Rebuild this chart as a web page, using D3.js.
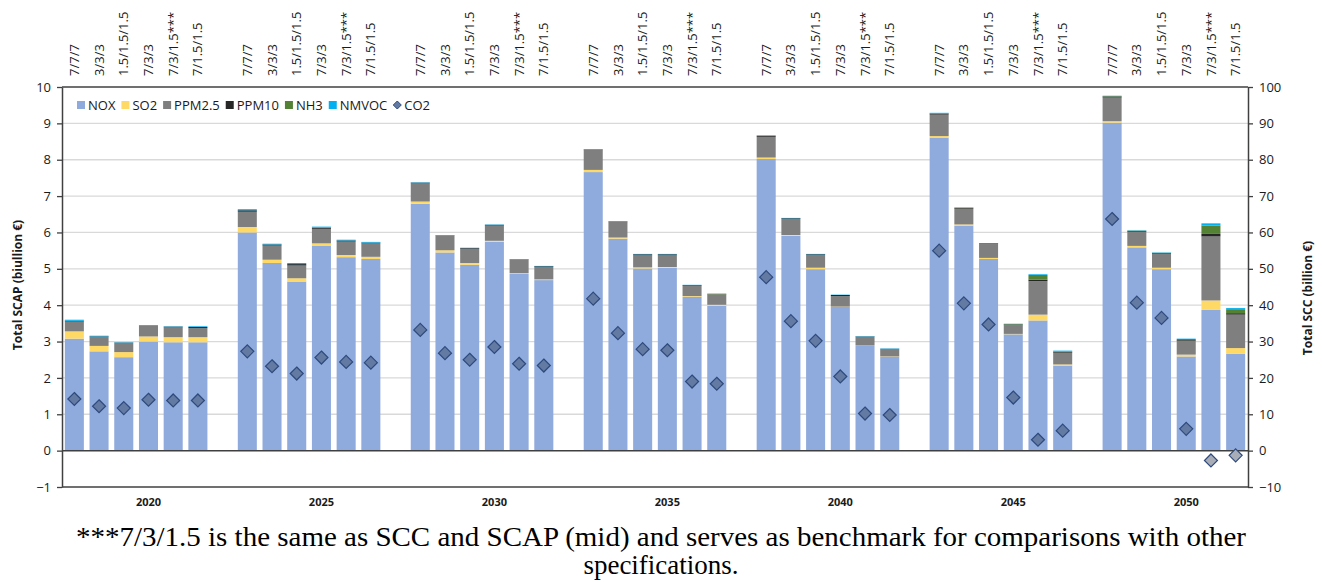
<!DOCTYPE html>
<html>
<head>
<meta charset="utf-8">
<script src="https://cdn.jsdelivr.net/npm/d3@7/dist/d3.min.js"></script>
<style>
  body { margin: 0; background: #fff; }
  svg text { font-family: "Open Sans", sans-serif; fill: #1a1a1a; }
  .caption { font-family: "Liberation Serif", serif; fill: #000; }
</style>
</head>
<body>
<svg id="chart" width="1322" height="582"></svg>
<script>
// external cost of emissions per scenario: SCAP stacks on the left axis, CO2 (SCC) on the right

var years = [2020, 2025, 2030, 2035, 2040, 2045, 2050];
var scenarios = ['7/7/7', '3/3/3', '1.5/1.5/1.5', '7/3/3', '7/3/1.5***', '7/1.5/1.5'];
var pollutants = ['NOX', 'SO2', 'PPM2.5', 'PPM10', 'NH3', 'NMVOC'];
var leftTicks = [-1, 0, 1, 2, 3, 4, 5, 6, 7, 8, 9, 10];
var rightTicks = [-10, 0, 10, 20, 30, 40, 50, 60, 70, 80, 90, 100];

// one row per year, one value per scenario (billion €)
var nox = [
  [3.08, 2.73, 2.57, 3.00, 2.98, 2.98],
  [6.00, 5.16, 4.65, 5.64, 5.32, 5.27],
  [6.79, 5.45, 5.11, 5.74, 4.86, 4.69],
  [7.66, 5.83, 5.01, 5.03, 4.23, 3.98],
  [8.02, 5.91, 4.99, 3.95, 2.88, 2.58],
  [8.61, 6.19, 5.27, 3.20, 3.58, 2.34],
  [9.02, 5.59, 4.99, 2.59, 3.87, 2.66]
];
var so2 = [
  [0.20, 0.15, 0.14, 0.14, 0.14, 0.14],
  [0.15, 0.09, 0.09, 0.06, 0.06, 0.06],
  [0.06, 0.06, 0.05, 0.03, 0.02, 0.02],
  [0.06, 0.03, 0.03, 0.02, 0.02, 0.03],
  [0.04, 0.02, 0.04, 0.01, 0.01, 0.01],
  [0.04, 0.03, 0.03, 0.01, 0.16, 0.03],
  [0.04, 0.04, 0.04, 0.05, 0.26, 0.16]
];
var ppm25 = [
  [0.27, 0.24, 0.25, 0.28, 0.27, 0.25],
  [0.42, 0.39, 0.35, 0.40, 0.37, 0.37],
  [0.50, 0.40, 0.39, 0.42, 0.37, 0.34],
  [0.54, 0.42, 0.33, 0.32, 0.28, 0.28],
  [0.57, 0.44, 0.35, 0.29, 0.24, 0.20],
  [0.59, 0.43, 0.38, 0.24, 0.92, 0.32],
  [0.65, 0.39, 0.38, 0.38, 1.76, 0.92]
];
var ppm10 = [
  [0.02, 0.02, 0.01, 0.02, 0.02, 0.03],
  [0.04, 0.03, 0.04, 0.03, 0.03, 0.02],
  [0.02, 0.01, 0.02, 0.02, 0.01, 0.02],
  [0.02, 0.02, 0.03, 0.03, 0.02, 0.01],
  [0.03, 0.02, 0.02, 0.03, 0.01, 0.01],
  [0.03, 0.02, 0.02, 0.02, 0.04, 0.02],
  [0.03, 0.02, 0.02, 0.02, 0.07, 0.04]
];
var nh3 = [
  [0.00, 0.00, 0.00, 0.00, 0.00, 0.00],
  [0.00, 0.00, 0.00, 0.00, 0.00, 0.00],
  [0.00, 0.00, 0.00, 0.00, 0.00, 0.00],
  [0.00, 0.00, 0.00, 0.00, 0.00, 0.01],
  [0.00, 0.00, 0.00, 0.00, 0.00, 0.00],
  [0.01, 0.01, 0.00, 0.01, 0.13, 0.02],
  [0.01, 0.01, 0.01, 0.03, 0.23, 0.11]
];
var nmvoc = [
  [0.03, 0.02, 0.01, 0.01, 0.01, 0.02],
  [0.03, 0.02, 0.03, 0.03, 0.02, 0.02],
  [0.01, 0.01, 0.01, 0.01, 0.01, 0.01],
  [0.01, 0.01, 0.01, 0.01, 0.01, 0.01],
  [0.01, 0.01, 0.01, 0.01, 0.01, 0.01],
  [0.01, 0.01, 0.01, 0.01, 0.02, 0.02],
  [0.01, 0.01, 0.01, 0.01, 0.06, 0.03]
];
// CO2 cost, right axis (billion €)
var co2 = [
  [14.2, 12.2, 11.7, 14.0, 13.8, 13.8],
  [27.3, 23.2, 21.2, 25.6, 24.4, 24.2],
  [33.2, 26.8, 25.0, 28.5, 23.9, 23.4],
  [41.8, 32.3, 27.9, 27.6, 19.0, 18.4],
  [47.7, 35.6, 30.2, 20.4, 10.2, 9.8],
  [55.0, 40.5, 34.7, 14.6, 3.0, 5.5],
  [63.7, 40.7, 36.5, 6.0, -2.7, -1.3]
];

var colors = ['#8faadc', '#ffd966', '#7f7f7f', '#262626', '#548235', '#00b0f0'];
var series = [nox, so2, ppm25, ppm10, nh3, nmvoc];

// build rows, with an empty slot between the years
var rows = [];
var slots = [];
years.forEach(function(year, i) {
  scenarios.forEach(function(scen, j) {
    var row = { key: year + '|' + scen, year: year, scen: scen, co2: co2[i][j] };
    pollutants.forEach(function(p, k) { row[p] = series[k][i][j]; });
    rows.push(row);
    slots.push(row.key);
  });
  if (i < years.length - 1) slots.push('gap' + i);
});

// plot box (window.top is taken, so prefix these)
var plotLeft = 62, plotRight = 1248, plotTop = 87, plotBottom = 487;
var svg = d3.select('#chart');

var x = d3.scaleBand()
  .domain(slots)
  .range([plotLeft, plotRight])
  .paddingInner(0.23)
  .paddingOuter(0.115);
var yL = d3.scaleLinear().domain([-1, 10]).range([plotBottom, plotTop]);
var yR = d3.scaleLinear().domain([-10, 100]).range([plotBottom, plotTop]);

// gridlines
svg.append('g')
  .selectAll('line')
  .data(leftTicks.filter(function(t) { return t > 0 && t < 10; }))
  .join('line')
  .attr('x1', plotLeft).attr('x2', plotRight)
  .attr('y1', function(d) { return yL(d); })
  .attr('y2', function(d) { return yL(d); })
  .attr('stroke', '#d9d9d9')
  .attr('stroke-width', 1.3);

// stacked bars
var stacked = d3.stack().keys(pollutants)(rows);
svg.append('g')
  .selectAll('g')
  .data(stacked)
  .join('g')
  .attr('fill', function(d, i) { return colors[i]; })
  .selectAll('rect')
  .data(function(d) { return d; })
  .join('rect')
  .attr('x', function(d) { return x(d.data.key); })
  .attr('width', x.bandwidth())
  .attr('y', function(d) { return yL(d[1]); })
  .attr('height', function(d) { return Math.max(0, yL(d[0]) - yL(d[1])); });

// frame lines: top, zero and bottom
svg.append('g')
  .selectAll('line')
  .data([10, 0, -1])
  .join('line')
  .attr('x1', plotLeft).attr('x2', plotRight)
  .attr('y1', function(d) { return yL(d); })
  .attr('y2', function(d) { return yL(d); })
  .attr('stroke', '#404040')
  .attr('stroke-width', 1.5);

// left axis
var axL = svg.append('g')
  .attr('transform', 'translate(' + plotLeft + ',0)')
  .call(d3.axisLeft(yL).tickValues(leftTicks).tickSize(5).tickSizeOuter(0).tickPadding(6));
// right axis
var axR = svg.append('g')
  .attr('transform', 'translate(' + plotRight + ',0)')
  .call(d3.axisRight(yR).tickValues(rightTicks).tickSize(5).tickSizeOuter(0).tickPadding(6));
[axL, axR].forEach(function(ax) {
  ax.select('.domain').attr('stroke', '#404040').attr('stroke-width', 1.5);
  ax.selectAll('.tick line').attr('stroke', '#404040').attr('stroke-width', 1.3);
  ax.selectAll('.tick text')
    .style('font-family', '"Open Sans", sans-serif')
    .style('font-size', '13px')
    .attr('fill', '#1a1a1a');
});

// scenario labels along the top
var axT = svg.append('g')
  .attr('transform', 'translate(0,' + plotTop + ')')
  .call(d3.axisTop(x)
    .tickValues(rows.map(function(r) { return r.key; }))
    .tickFormat(function(k) { return k.split('|')[1]; })
    .tickSize(0));
axT.select('.domain').remove();
axT.selectAll('.tick text')
  .attr('transform', 'rotate(-90)')
  .attr('x', 11)
  .attr('y', 0)
  .attr('dy', '0.35em')
  .attr('text-anchor', 'start')
  .style('font-family', '"Open Sans", sans-serif')
  .style('font-size', '13px')
  .attr('fill', '#1a1a1a');

// year labels under each group
svg.append('g')
  .selectAll('text')
  .data(years)
  .join('text')
  .attr('x', function(d) {
    return x(d + '|' + scenarios[0]) + x.bandwidth() / 2 + 3 * x.step();
  })
  .attr('y', 506)
  .attr('text-anchor', 'middle')
  .style('font-size', '11px')
  .style('font-weight', 'bold')
  .text(function(d) { return d; });

// co2 diamonds on the right scale
var diamond = 'M0,-6.5L6.5,0L0,6.5L-6.5,0Z';
svg.append('g')
  .selectAll('path')
  .data(rows)
  .join('path')
  .attr('d', diamond)
  .attr('transform', function(d) {
    return 'translate(' + (x(d.key) + x.bandwidth() / 2) + ',' + yR(d.co2) + ')';
  })
  .attr('fill', function(d) { return d.co2 < 0 ? '#a9adb5' : '#637aa3'; })
  .attr('stroke', '#2e4a7d')
  .attr('stroke-width', 1.2);

// axis titles
svg.append('text')
  .attr('transform', 'translate(22,285) rotate(-90)')
  .attr('text-anchor', 'middle')
  .style('font-size', '12px')
  .style('font-weight', 'bold')
  .text('Total SCAP (biullion €)');
svg.append('text')
  .attr('transform', 'translate(1312,298) rotate(-90)')
  .attr('text-anchor', 'middle')
  .style('font-size', '12px')
  .style('font-weight', 'bold')
  .text('Total SCC (billion €)');

// legend
var legend = svg.append('g').attr('transform', 'translate(77,105)');
var lx = 0;
pollutants.concat(['CO2']).forEach(function(name, i) {
  if (name === 'CO2') {
    legend.append('path')
      .attr('d', 'M0,-4L4,0L0,4L-4,0Z')
      .attr('transform', 'translate(' + (lx + 4) + ',0)')
      .attr('fill', '#637aa3')
      .attr('stroke', '#2e4a7d');
  } else {
    legend.append('rect')
      .attr('x', lx).attr('y', -4)
      .attr('width', 8).attr('height', 8)
      .attr('fill', colors[i]);
  }
  var t = legend.append('text')
    .attr('x', lx + 11)
    .attr('dy', '0.35em')
    .style('font-size', '13px')
    .text(name);
  lx += 11 + t.node().getComputedTextLength() + 6;
});

// caption below the chart
var caption = [
  '***7/3/1.5 is the same as SCC and SCAP (mid) and serves as benchmark for comparisons with other',
  'specifications.'
];
svg.append('g')
  .selectAll('text')
  .data(caption)
  .join('text')
  .attr('class', 'caption')
  .attr('x', 661)
  .attr('y', function(d, i) { return 546 + i * 28; })
  .attr('text-anchor', 'middle')
  .attr('textLength', function(d, i) { return i === 0 ? 1170 : null; })
  .attr('lengthAdjust', 'spacingAndGlyphs')
  .style('font-size', '27px')
  .text(function(d) { return d; });
</script>
</body>
</html>
